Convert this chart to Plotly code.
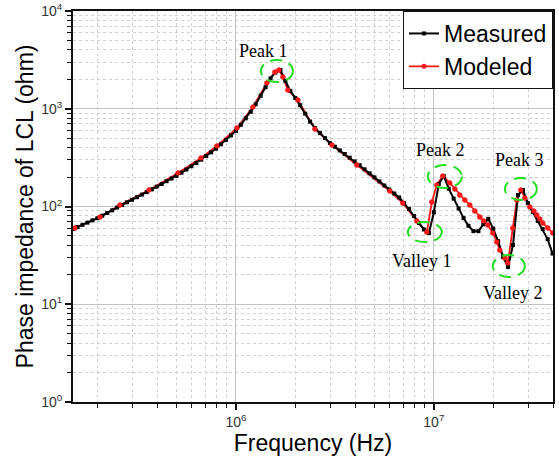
import numpy as np
import plotly.graph_objects as go

# ---- Measured impedance (Hz, ohm) ----
meas_freq = [149600, 158500, 167900, 177800, 188400, 199500, 211300, 223900, 237100, 251200,
             266100, 281800, 298500, 316200, 335000, 354800, 375800, 398100, 421700, 446700,
             473200, 501200, 530900, 562300, 595700, 631000, 668300, 707900, 749900, 794300,
             841400, 891300, 944100, 1.000e6, 1.059e6, 1.122e6, 1.189e6, 1.259e6, 1.334e6, 1.413e6,
             1.496e6, 1.585e6, 1.679e6, 1.778e6, 1.884e6, 1.995e6, 2.113e6, 2.239e6, 2.371e6, 2.512e6,
             2.661e6, 2.818e6, 2.985e6, 3.162e6, 3.350e6, 3.548e6, 3.758e6, 3.981e6, 4.217e6, 4.467e6,
             4.732e6, 5.012e6, 5.309e6, 5.623e6, 5.957e6, 6.310e6, 6.683e6, 7.079e6, 7.499e6, 7.943e6,
             8.414e6, 8.913e6, 9.441e6, 1.000e7, 1.059e7, 1.122e7, 1.189e7, 1.259e7, 1.334e7, 1.413e7,
             1.496e7, 1.585e7, 1.679e7, 1.778e7, 1.884e7, 1.995e7, 2.113e7, 2.239e7, 2.371e7, 2.512e7,
             2.661e7, 2.818e7, 2.985e7, 3.162e7, 3.350e7, 3.548e7, 3.758e7, 3.981e7]
meas_z = [58.9, 61.7, 65.0, 68.4, 72.1, 75.9, 80.5, 85.8, 91.4, 97.7,
          103.8, 110.4, 117.1, 124.5, 132.3, 140.4, 149.6, 159.5, 169.9, 181.5,
          193.4, 206.1, 221.7, 239.0, 258.4, 278.6, 301.2, 328.6, 358.4, 391.1,
          432.8, 480.1, 533.9, 593.4, 685.2, 798.6, 930.7, 1113, 1360, 1662,
          2045, 2354, 2491, 1922, 1523, 1291, 1087, 890, 738.8, 632.4,
          563.4, 500.9, 446.2, 409.1, 374.9, 344.4, 315.7, 289.3, 264.6, 240.2,
          218.6, 198.5, 180.6, 164.0, 149.3, 135.8, 123.6, 108.1, 94.1, 80.0,
          67.8, 58.2, 53.6, 87.2, 169.9, 205.1, 152.1, 120.4, 95.4, 76.1,
          63.5, 56.0, 55.9, 65.8, 74.8, 59.4, 44.2, 30.4, 24.0, 40.4,
          131.1, 147.5, 108.3, 88.3, 71.2, 58.7, 46.4, 33.0]

# ---- Modeled impedance (Hz, ohm) ----
mod_freq = [1.538e5, 2.057e5, 2.595e5, 3.636e5, 5.097e5, 6.656e5, 8.017e5, 1.012e6, 1.219e6, 1.434e6,
            1.574e6, 1.649e6, 1.728e6, 1.830e6, 2.057e6, 2.506e6, 3.054e6, 4.084e6, 5.995e6, 6.972e6,
            8.209e6, 9.218e6, 9.770e6, 1.036e7, 1.110e7, 1.204e7, 1.277e7, 1.353e7, 1.434e7, 1.520e7,
            1.611e7, 1.707e7, 1.788e7, 1.874e7, 1.986e7, 2.081e7, 2.154e7, 2.284e7, 2.364e7, 2.506e7,
            2.626e7, 2.751e7, 2.882e7, 3.054e7, 3.200e7, 3.313e7, 3.431e7, 3.552e7, 3.765e7, 3.990e7]
mod_z = [60.3, 78.1, 103.6, 147.5, 220.1, 313.5, 415.8, 635.5, 1042, 1834,
         2377, 2491, 2113, 1555, 1229, 620.6, 425.8, 265.8, 144.1, 108.6,
         71.1, 54.8, 111.2, 166.0, 205.1, 174.0, 151.0, 131.1, 116.6, 103.6,
         89.9, 78.1, 71.1, 64.7, 53.6, 43.4, 35.9, 29.7, 26.4, 60.3,
         116.6, 147.5, 122.2, 98.8, 89.9, 81.8, 74.5, 67.8, 60.3, 53.6]

series_names = ["Measured", "Modeled"]

# ---- Axis ticks ----
x_tickvals = [1e6, 1e7]
x_ticktext = ["10<sup>6</sup>", "10<sup>7</sup>"]
y_tickvals = [1, 10, 100, 1000, 10000]
y_ticktext = ["10<sup>0</sup>", "10<sup>1</sup>", "10<sup>2</sup>", "10<sup>3</sup>", "10<sup>4</sup>"]
x_minor = [m * 10 ** e for e in (5, 6, 7) for m in range(2, 10)]
y_minor = [m * 10 ** e for e in (0, 1, 2, 3) for m in range(2, 10)]

# ---- Highlighted features: label, (f0, f1), (z0, z1) ----
feature_labels = ["Peak 1", "Peak 2", "Valley 1", "Peak 3", "Valley 2"]
feature_f = [(1.337e6, 1.941e6), (9.326e6, 1.385e7), (7.39e6, 1.097e7), (2.284e7, 3.313e7), (1.986e7, 2.882e7)]
feature_z = [(1878, 3154), (154.6, 265.7), (43.3, 69.4), (116.6, 195.7), (19.0, 31.9)]
label_f = [1.385e6, 1.085e7, 8.70e6, 2.718e7, 2.506e7]
label_z = [3897, 378.4, 27.7, 299.0, 13.0]

RED = "#ff1a1a"
fig = go.Figure()
# modeled line (under the measured curve)
fig.add_trace(go.Scatter(
    x=mod_freq, y=mod_z, name=series_names[1], mode="lines+markers",
    line=dict(color=RED, width=1.8),
    marker=dict(symbol="circle", size=5, color=RED),
    legendrank=2,
))
fig.add_trace(go.Scatter(
    x=meas_freq, y=meas_z, name=series_names[0], mode="lines+markers",
    line=dict(color="black", width=2),
    marker=dict(symbol="square", size=4, color="black"),
    legendrank=1,
))
# modeled markers on top
fig.add_trace(go.Scatter(
    x=mod_freq, y=mod_z, mode="markers", showlegend=False, hoverinfo="skip",
    marker=dict(symbol="circle", size=5, color=RED),
))

for (f0, f1), (z0, z1) in zip(feature_f, feature_z):
    fig.add_shape(type="circle", xref="x", yref="y", x0=f0, x1=f1, y0=z0, y1=z1,
                  line=dict(color="#22dd22", width=2, dash="12px,7px"))

for lab, lf, lz in zip(feature_labels, label_f, label_z):
    fig.add_annotation(x=np.log10(lf), y=np.log10(lz), xref="x", yref="y", text=lab,
                       showarrow=False, font=dict(family="Liberation Serif", size=18, color="black"))

def axis_style(tickvals, ticktext, minor_vals):
    return dict(
        type="log", tickmode="array", tickvals=tickvals, ticktext=ticktext,
        automargin=False,
        showline=True, linecolor="#111", linewidth=2, mirror=True,
        ticks="outside", ticklen=6, tickwidth=1.5, tickcolor="#111",
        showgrid=True, gridcolor="#c4c4c4", gridwidth=1,
        tickfont=dict(family="Liberation Sans", size=14, color="#333"),
        minor=dict(tickmode="array", tickvals=minor_vals, ticks="outside", ticklen=4,
                   tickwidth=1.2, tickcolor="#111",
                   showgrid=True, gridcolor="#d0d0d0", griddash="dot", gridwidth=1),
        zeroline=False,
    )

fig.update_xaxes(**axis_style(x_tickvals, x_ticktext, x_minor), range=[5.177, 7.602],
                 title=dict(text="Frequency (Hz)", standoff=3,
                            font=dict(family="Liberation Sans", size=23, color="black")))
fig.update_yaxes(**axis_style(y_tickvals, y_ticktext, y_minor), range=[0, 4],
                 title=dict(text="Phase impedance of LCL (ohm)", standoff=1,
                            font=dict(family="Liberation Sans", size=23, color="black")))

fig.update_layout(
    width=559, height=462,
    margin=dict(l=73, r=6, t=11, b=60, autoexpand=False),
    paper_bgcolor="white", plot_bgcolor="white",
    showlegend=True,
    legend=dict(x=1, y=1, xanchor="right", yanchor="top",
                bgcolor="white", bordercolor="#111", borderwidth=1,
                font=dict(family="Liberation Sans", size=23, color="black"),
                tracegroupgap=0),
)

# remove the page's default body margin so the figure fills the window exactly
fig.write_html("out.html", config={"displayModeBar": False},
               post_script="document.body.style.margin='0px';")
